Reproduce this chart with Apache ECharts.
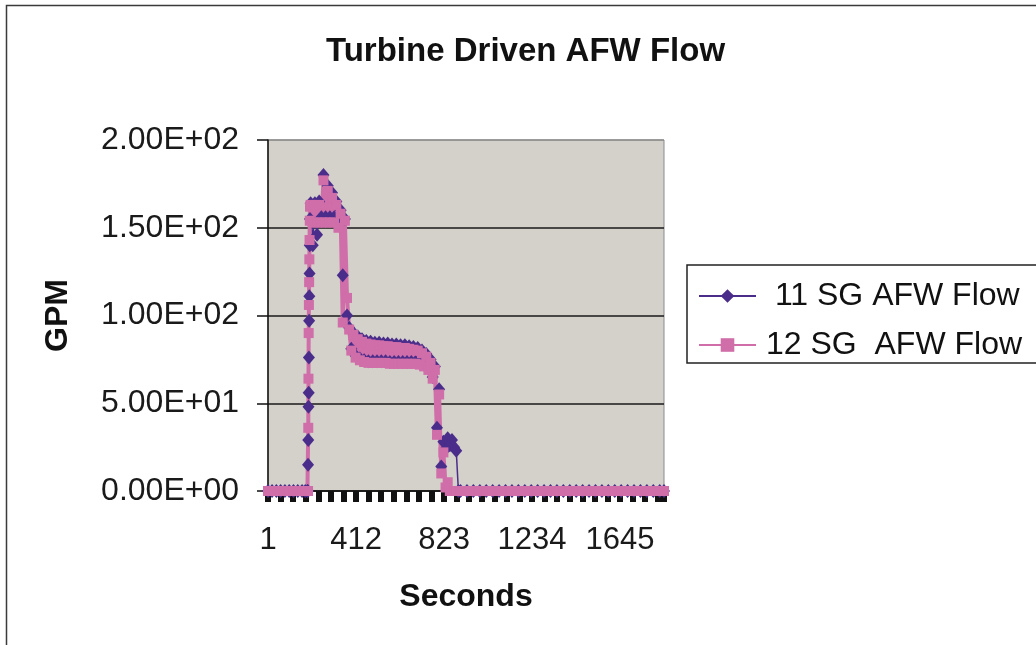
<!DOCTYPE html>
<html>
<head>
<meta charset="utf-8">
<title>Turbine Driven AFW Flow</title>
<script src="https://cdn.jsdelivr.net/npm/echarts@6/dist/echarts.min.js"></script>
<style>
  html, body { margin: 0; padding: 0; background: #fff; }
  #chart { width: 1036px; height: 645px; }
</style>
</head>
<body>
<div id="chart"></div>
<script>
// Sample times (s) shared by both steam generator traces
const seconds = [
  1, 20, 40, 60, 80, 100, 120, 140, 160, 175, 185,
  187, 188, 189, 190, 191, 192, 193, 194, 195, 196, 197,
  200, 210, 220, 230, 240, 250, 260, 270, 280, 290,
  300, 310, 320, 330, 340, 350, 360, 370, 380, 390,
  400, 410, 420, 430, 440, 450, 460, 470, 480, 490,
  500, 510, 520, 530, 540, 550, 560, 570, 580, 590,
  600, 610, 620, 630, 640, 650, 660, 670, 680, 690,
  700, 710, 720, 730, 740, 750, 760, 770, 780, 790,
  800, 810, 820, 830, 840, 850, 860, 870, 880, 890, 900,
  930, 960, 990, 1020, 1050, 1080, 1110, 1140, 1170, 1200,
  1230, 1260, 1290, 1320, 1350, 1380, 1410, 1440, 1470, 1500,
  1530, 1560, 1590, 1620, 1650, 1680, 1710, 1740, 1770, 1800,
  1830, 1850
];

// 11 SG AFW flow (GPM) - the flow hunts up and down while the valve cycles
const flow11 = [
  0, 0, 0, 0, 0, 0, 0, 0, 0, 0, 0,
  0, 15, 29, 48, 56, 76, 97, 111, 124, 140, 155,
  164, 140, 164, 146, 165, 156, 180, 156, 174, 156,
  170, 156, 165, 152, 160, 123, 155, 100, 93, 81,
  90, 77, 88, 75.5, 86.5, 74.5, 85.5, 74, 85, 74,
  84.5, 74, 84.5, 74, 84, 74, 84, 73.5, 83.5, 73.5,
  83.5, 73.5, 83, 73.5, 83, 73.5, 82.5, 73.5, 82, 73.5,
  81.5, 73, 80, 72, 78, 70, 75, 65, 71, 36,
  58, 14, 28, 24, 30, 26, 29, 25, 23, 0, 0,
  0, 0, 0, 0, 0, 0, 0, 0, 0, 0,
  0, 0, 0, 0, 0, 0, 0, 0, 0, 0,
  0, 0, 0, 0, 0, 0, 0, 0, 0, 0,
  0, 0
];

// 12 SG AFW flow (GPM)
const flow12 = [
  0, 0, 0, 0, 0, 0, 0, 0, 0, 0, 0,
  0, 0, 36, 64, 90, 106, 119, 132, 143, 154, 162,
  163, 153, 163, 153, 163, 153, 177, 153, 171, 153,
  167, 153, 163, 150, 158, 96, 154, 110, 92, 80,
  89, 76, 86.5, 74.5, 85, 73.5, 84, 73, 83.5, 73,
  83, 73, 83, 73, 82.5, 73, 82.5, 72.5, 82, 72.5,
  82, 72.5, 81.5, 72.5, 81.5, 72.5, 81, 72.5, 80.5, 72.5,
  80, 72, 78.5, 71, 76.5, 69, 73, 64, 69, 32,
  55, 10, 22, 2, 5, 0, 0, 0, 0, 0, 0,
  0, 0, 0, 0, 0, 0, 0, 0, 0, 0,
  0, 0, 0, 0, 0, 0, 0, 0, 0, 0,
  0, 0, 0, 0, 0, 0, 0, 0, 0, 0,
  0, 0
];

const seriesNames = [' 11 SG AFW Flow', '12 SG  AFW Flow'];
const seriesColors = ['#4a2d8b', '#d06ea9'];

const timeMin = 1;
const timeMax = 1850;
const timeLabelStep = 411;
const flowMax = 200;
const flowStep = 50;

const FONT = "'Liberation Sans', Arial, sans-serif";

// Excel-style scientific notation: 1.50E+02
function sciLabel(v) {
  const parts = Number(v).toExponential(2).split('e');
  const exp = parseInt(parts[1], 10);
  return parts[0] + 'E' + (exp < 0 ? '-' : '+') + String(Math.abs(exp)).padStart(2, '0');
}

const chart = echarts.init(document.getElementById('chart'), null, { renderer: 'canvas' });

const option = {
  animation: false,
  backgroundColor: '#ffffff',
  title: {
    text: 'Turbine Driven AFW Flow',
    left: 326,
    top: 35,
    padding: 0,
    textStyle: { fontFamily: FONT, fontWeight: 'bold', fontSize: 33, color: '#111' }
  },
  legend: {
    orient: 'vertical',
    left: 687,
    top: 265,
    padding: [15, 30, 2, 11],
    itemGap: 17,
    itemWidth: 57,
    itemHeight: 17,
    backgroundColor: '#ffffff',
    borderColor: '#222',
    borderWidth: 1.5,
    borderRadius: 0,
    selectedMode: false,
    lineStyle: { width: 2 },
    textStyle: { fontFamily: FONT, fontSize: 32, color: '#111', padding: [0, 0, 0, 5] },
    data: seriesNames
  },
  grid: {
    left: 268,
    right: 372,
    top: 140,
    bottom: 154,
    show: true,
    backgroundColor: '#d4d0ca',
    borderColor: '#8c8c8c',
    borderWidth: 1,
    containLabel: false,
    outerBoundsMode: 'none'
  },
  xAxis: [
    {
      type: 'value',
      position: 'bottom',
      min: timeMin,
      max: timeMax,
      interval: timeLabelStep,
      name: 'Seconds',
      nameLocation: 'middle',
      nameGap: 90,
      nameTextStyle: { fontFamily: FONT, fontWeight: 'bold', fontSize: 32, color: '#111' },
      axisLine: { show: true, onZero: false, lineStyle: { color: '#111', width: 1.5 } },
      axisTick: { show: false },
      axisLabel: {
        margin: 34,
        fontFamily: FONT,
        fontSize: 31,
        color: '#1a1a1a',
        formatter: v => ((v - timeMin) % timeLabelStep === 0 ? String(v) : '')
      },
      splitLine: { show: false }
    },
    {
      // tick marks only, seven per labelled interval
      type: 'value',
      position: 'bottom',
      min: timeMin,
      max: timeMax,
      interval: timeLabelStep / 7,
      axisLine: { show: false },
      axisTick: { show: true, length: 11, lineStyle: { color: '#111', width: 6 } },
      axisLabel: { show: false },
      splitLine: { show: false }
    }
  ],
  yAxis: {
    type: 'value',
    min: 0,
    max: flowMax,
    interval: flowStep,
    name: 'GPM',
    nameLocation: 'middle',
    nameGap: 194,
    nameTextStyle: { fontFamily: FONT, fontWeight: 'bold', fontSize: 32, color: '#111' },
    axisLine: { show: true, lineStyle: { color: '#111', width: 1.5 } },
    axisTick: { show: true, length: 11, lineStyle: { color: '#111', width: 1.5 } },
    axisLabel: { margin: 29, fontFamily: FONT, fontSize: 32, color: '#1a1a1a', formatter: sciLabel },
    splitLine: {
      show: true,
      lineStyle: { color: ['#1a1a1a', '#1a1a1a', '#1a1a1a', '#1a1a1a', '#8c8c8c'], width: 1.5 }
    }
  },
  series: [
    {
      name: seriesNames[0],
      type: 'line',
      xAxisIndex: 0,
      data: seconds.map((s, i) => [s, flow11[i]]),
      symbol: 'diamond',
      symbolSize: [12, 14],
      showSymbol: true,
      clip: false,
      itemStyle: { color: seriesColors[0] },
      lineStyle: { color: seriesColors[0], width: 1.5 },
      emphasis: { disabled: true }
    },
    {
      name: seriesNames[1],
      type: 'line',
      xAxisIndex: 0,
      data: seconds.map((s, i) => [s, flow12[i]]),
      symbol: 'rect',
      symbolSize: 10,
      showSymbol: true,
      clip: false,
      itemStyle: { color: seriesColors[1] },
      lineStyle: { color: seriesColors[1], width: 4 },
      emphasis: { disabled: true }
    }
  ],
  graphic: [
    {
      type: 'rect',
      silent: true,
      shape: { x: 6.5, y: 5.5, width: 1200, height: 800 },
      style: { fill: 'none', stroke: '#3a3a3a', lineWidth: 1.5 }
    }
  ]
};

chart.setOption(option);
</script>
</body>
</html>
